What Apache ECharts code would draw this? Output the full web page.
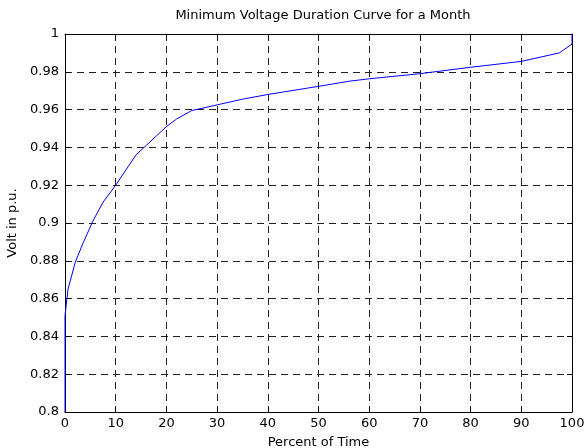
<!DOCTYPE html>
<html><head><meta charset="utf-8">
<script src="https://cdn.jsdelivr.net/npm/echarts@6/dist/echarts.min.js"></script>
<style>html,body{margin:0;padding:0;background:#fff}#c{width:586px;height:448px}</style>
</head><body><div id="c"></div>
<script>
var titleText = "Minimum Voltage Duration Curve for a Month";
var xName = "Percent of Time";
var yName = "Volt in p.u.";
var percentTime = [0, 0, 0.6, 2, 3.5, 5.5, 7.5, 10, 12, 14, 16, 18, 20, 22, 25, 30, 35, 40, 50, 56, 60, 70, 80, 90, 97.5, 100, 100];
var voltage = [0.8, 0.851, 0.865, 0.879, 0.889, 0.901, 0.911, 0.920, 0.928, 0.936, 0.941, 0.946, 0.951, 0.955, 0.9595, 0.9625, 0.9655, 0.968, 0.9723, 0.975, 0.9763, 0.979, 0.9824, 0.9855, 0.990, 0.9947, 1.0];

var font = "DejaVu Sans, Arial, sans-serif";
var data = percentTime.map(function(x, i){ return [x, voltage[i]]; });
var grid = {left:65, right:14, top:34, bottom:36, containLabel:false, outerBoundsMode:'none'};
var splitStyle = {show:true, lineStyle:{color:'#222', type:[7,5], width:1}};
var chart = echarts.init(document.getElementById('c'), null, {renderer:'canvas'});
chart.setOption({
  animation:false,
  backgroundColor:'#fff',
  title:{text:titleText, left:318, textAlign:'center', top:4, textStyle:{fontFamily:font, fontSize:13, fontWeight:'normal', color:'#000'}},
  grid:grid,
  xAxis:[{
    type:'value', min:0, max:100, interval:10, position:'bottom',
    name:xName, nameLocation:'middle', nameGap:24,
    nameTextStyle:{fontFamily:font, fontSize:13, color:'#000'},
    axisLine:{show:true, onZero:false, lineStyle:{color:'#000', width:1}},
    axisTick:{show:true, inside:true, length:5, lineStyle:{color:'#000'}},
    axisLabel:{fontFamily:font, fontSize:13, color:'#000', margin:5},
    splitLine:splitStyle
  },{
    type:'value', min:0, max:100, interval:10, position:'top',
    axisLine:{show:true, onZero:false, lineStyle:{color:'#000', width:1}},
    axisTick:{show:true, inside:true, length:5, lineStyle:{color:'#000'}},
    axisLabel:{show:false}, splitLine:{show:false}
  }],
  yAxis:[{
    type:'value', min:0.8, max:1, interval:0.02, position:'left',
    name:yName, nameLocation:'middle', nameGap:44, nameRotate:90,
    nameTextStyle:{fontFamily:font, fontSize:13, color:'#000'},
    axisLine:{show:true, onZero:false, lineStyle:{color:'#000', width:1}},
    axisTick:{show:true, inside:true, length:5, lineStyle:{color:'#000'}},
    axisLabel:{fontFamily:font, fontSize:13, color:'#000', margin:6, formatter:function(v){return String(+v.toFixed(2));}},
    splitLine:splitStyle
  },{
    type:'value', min:0.8, max:1, interval:0.02, position:'right',
    axisLine:{show:true, onZero:false, lineStyle:{color:'#000', width:1}},
    axisTick:{show:true, inside:true, length:5, lineStyle:{color:'#000'}},
    axisLabel:{show:false}, splitLine:{show:false}
  }],
  series:[{
    type:'line', data:data, xAxisIndex:0, yAxisIndex:0,
    showSymbol:false, symbol:'none', smooth:false,
    lineStyle:{color:'#0000ff', width:1}
  }]
});
</script></body></html>
